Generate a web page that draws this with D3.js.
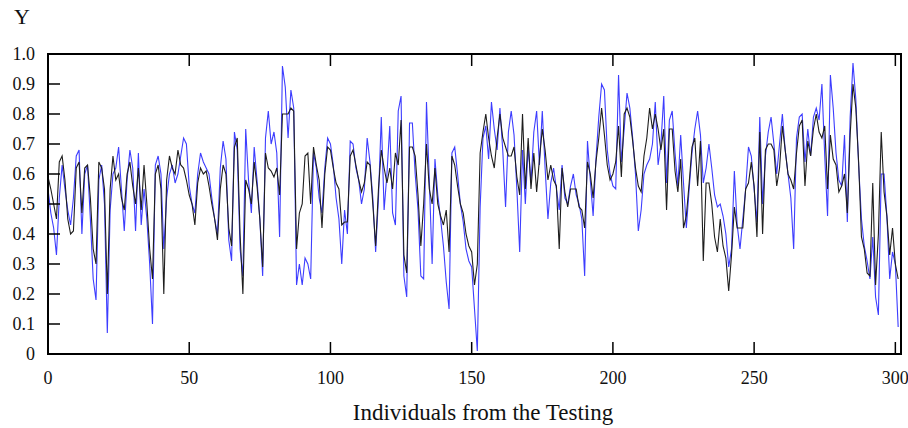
<!DOCTYPE html>
<html>
<head>
<meta charset="utf-8">
<script src="https://cdn.jsdelivr.net/npm/d3@7"></script>
<style>
  body { margin: 0; background: #fff; }
  text { font-family: "Liberation Serif", "Times New Roman", serif; fill: #111; }
</style>
</head>
<body>
<div id="chart"></div>
<script>
// measured (black) and predicted (blue) Y for each individual of the testing set
var actual = [
  .59,.55,.50,.45,.64,.66,.58,.45,.40,.41, .62,.64,.47,.62,.63,.52,.35,.30,.64,.62,
  .55,.20,.55,.66,.58,.60,.52,.48,.60,.64, .56,.50,.62,.48,.63,.50,.35,.25,.60,.63,
  .55,.20,.58,.66,.62,.60,.68,.63,.62,.58, .53,.50,.43,.57,.62,.60,.61,.56,.50,.45,
  .38,.55,.63,.60,.42,.36,.69,.72,.40,.20, .58,.55,.50,.64,.56,.45,.29,.67,.62,.61,
  .59,.62,.53,.80,.80,.80,.82,.81,.35,.47, .50,.66,.67,.50,.69,.63,.58,.42,.60,.69,
  .68,.62,.57,.55,.43,.44,.44,.66,.68,.63, .58,.54,.57,.64,.63,.50,.36,.55,.68,.62,
  .57,.62,.55,.67,.63,.78,.33,.27,.69,.69, .66,.53,.36,.50,.70,.55,.50,.62,.50,.46,
  .43,.48,.34,.66,.63,.56,.50,.47,.40,.36, .34,.23,.30,.67,.74,.80,.72,.66,.62,.72,
  .80,.72,.69,.66,.66,.69,.59,.53,.80,.55, .72,.55,.67,.54,.65,.75,.68,.58,.63,.58,
  .56,.35,.62,.54,.49,.55,.55,.55,.49,.48, .42,.64,.60,.52,.64,.72,.82,.73,.63,.58,
  .60,.64,.76,.59,.80,.82,.79,.71,.62,.56, .54,.66,.72,.82,.75,.80,.75,.68,.75,.48,
  .75,.75,.61,.54,.65,.42,.46,.57,.69,.72, .56,.71,.31,.57,.57,.50,.39,.34,.45,.36,
  .32,.21,.33,.49,.42,.42,.42,.55,.57,.64, .56,.39,.74,.40,.68,.70,.70,.68,.56,.62,
  .76,.68,.60,.58,.55,.67,.76,.78,.56,.71, .66,.75,.80,.74,.72,.76,.55,.73,.65,.63,
  .54,.56,.60,.47,.73,.90,.82,.64,.39,.35, .27,.26,.57,.23,.40,.74,.54,.46,.33,.42,
  .30,.25
];
var predicted = [
  .55,.47,.42,.33,.52,.63,.55,.48,.43,.52, .66,.68,.40,.60,.63,.45,.25,.18,.58,.63,
  .50,.07,.48,.60,.62,.69,.55,.41,.58,.68, .62,.41,.67,.43,.55,.45,.30,.10,.63,.66,
  .60,.35,.52,.60,.63,.57,.60,.66,.72,.70, .56,.50,.47,.60,.67,.64,.62,.60,.52,.45,
  .40,.62,.71,.65,.38,.31,.74,.68,.35,.26, .75,.58,.47,.69,.58,.45,.26,.72,.81,.70,
  .74,.67,.39,.96,.89,.72,.88,.82,.23,.30, .23,.32,.30,.25,.67,.62,.52,.47,.62,.72,
  .70,.63,.52,.45,.30,.48,.40,.71,.70,.62, .58,.50,.55,.72,.64,.52,.34,.52,.79,.48,
  .60,.76,.47,.43,.81,.86,.26,.19,.77,.77, .60,.48,.26,.25,.84,.58,.30,.65,.53,.45,
  .36,.24,.15,.67,.69,.60,.50,.44,.35,.31, .29,.15,.01,.49,.72,.76,.65,.84,.75,.68,
  .82,.68,.49,.74,.81,.73,.55,.34,.68,.50, .69,.57,.74,.81,.63,.81,.62,.45,.57,.62,
  .55,.48,.63,.52,.50,.56,.60,.53,.50,.45, .26,.71,.58,.46,.65,.79,.90,.88,.68,.60,
  .56,.55,.93,.64,.75,.87,.82,.72,.60,.41, .48,.60,.63,.65,.70,.84,.63,.70,.86,.57,
  .78,.81,.67,.56,.73,.57,.42,.55,.67,.75, .81,.73,.57,.62,.70,.62,.53,.49,.50,.46,
  .40,.29,.35,.61,.43,.35,.45,.55,.69,.66, .55,.44,.79,.50,.66,.74,.79,.70,.60,.70,
  .80,.68,.60,.52,.35,.72,.79,.80,.64,.75, .66,.79,.82,.78,.90,.66,.46,.93,.82,.67,
  .58,.56,.73,.44,.79,.97,.85,.63,.45,.36, .31,.25,.39,.19,.13,.60,.60,.46,.25,.34,
  .30,.09
];
var xTicks = [0, 50, 100, 150, 200, 250, 300];
var yTicks = [0, 0.1, 0.2, 0.3, 0.4, 0.5, 0.6, 0.7, 0.8, 0.9, 1.0];
var xTitle = "Individuals from the Testing";
var yTitle = "Y";

(function () {
    var width = 908, height = 428;
    var mLeft = 48, mRight = 901, mTop = 54, mBottom = 354;

    var svg = d3.select("#chart")
        .append("svg")
        .attr("width", width)
        .attr("height", height);

    var x = d3.scaleLinear().domain([0, 302]).range([mLeft, mRight]);
    var y = d3.scaleLinear().domain([0, 1]).range([mBottom, mTop]);

    function series(vals) {
        return vals.map(function (v, i) { return [i, v]; });
    }

    var line = d3.line()
        .x(function (d) { return x(d[0]); })
        .y(function (d) { return y(d[1]); });

    var plot = svg.append("g");

    // blue first, black over it
    plot.append("path")
        .datum(series(predicted))
        .attr("fill", "none")
        .attr("stroke", "#3d3dff")
        .attr("stroke-width", 1.1)
        .attr("d", line);

    plot.append("path")
        .datum(series(actual))
        .attr("fill", "none")
        .attr("stroke", "#1e1e1e")
        .attr("stroke-width", 1.1)
        .attr("d", line);

    // inward ticks: x on bottom and top, y on the left only
    var tickLen = 12;
    svg.append("g")
        .selectAll("line")
        .data(xTicks.slice(1))
        .enter()
        .append("line")
        .attr("x1", function (d) { return x(d); })
        .attr("x2", function (d) { return x(d); })
        .attr("y1", mBottom)
        .attr("y2", mBottom - tickLen)
        .attr("stroke", "#000")
        .attr("stroke-width", 1.5);

    svg.append("g")
        .selectAll("line")
        .data(xTicks.slice(1))
        .enter()
        .append("line")
        .attr("x1", function (d) { return x(d); })
        .attr("x2", function (d) { return x(d); })
        .attr("y1", mTop)
        .attr("y2", mTop + tickLen)
        .attr("stroke", "#000")
        .attr("stroke-width", 1.5);

    svg.append("g")
        .selectAll("line")
        .data(yTicks.slice(1, -1))
        .enter()
        .append("line")
        .attr("x1", mLeft)
        .attr("x2", mLeft + tickLen)
        .attr("y1", function (d) { return y(d); })
        .attr("y2", function (d) { return y(d); })
        .attr("stroke", "#000")
        .attr("stroke-width", 1.5);

    // frame
    svg.append("rect")
        .attr("x", mLeft)
        .attr("y", mTop)
        .attr("width", mRight - mLeft)
        .attr("height", mBottom - mTop)
        .attr("fill", "none")
        .attr("stroke", "#000")
        .attr("stroke-width", 2);

    // tick labels
    svg.append("g")
        .selectAll("text")
        .data(xTicks)
        .enter()
        .append("text")
        .attr("x", function (d) { return x(d); })
        .attr("y", 384)
        .attr("text-anchor", "middle")
        .style("font-size", "18px")
        .text(function (d) { return d; });

    svg.append("g")
        .selectAll("text")
        .data(yTicks)
        .enter()
        .append("text")
        .attr("x", 35)
        .attr("y", function (d) { return y(d) + 6; })
        .attr("text-anchor", "end")
        .style("font-size", "18px")
        .text(function (d) { return d === 0 ? "0" : d3.format(".1f")(d); });

    svg.append("text")
        .attr("x", 483)
        .attr("y", 420)
        .attr("text-anchor", "middle")
        .style("font-size", "23px")
        .text(xTitle);

    svg.append("text")
        .attr("x", 22)
        .attr("y", 24)
        .attr("text-anchor", "middle")
        .style("font-size", "22px")
        .text(yTitle);
})();
</script>
</body>
</html>
